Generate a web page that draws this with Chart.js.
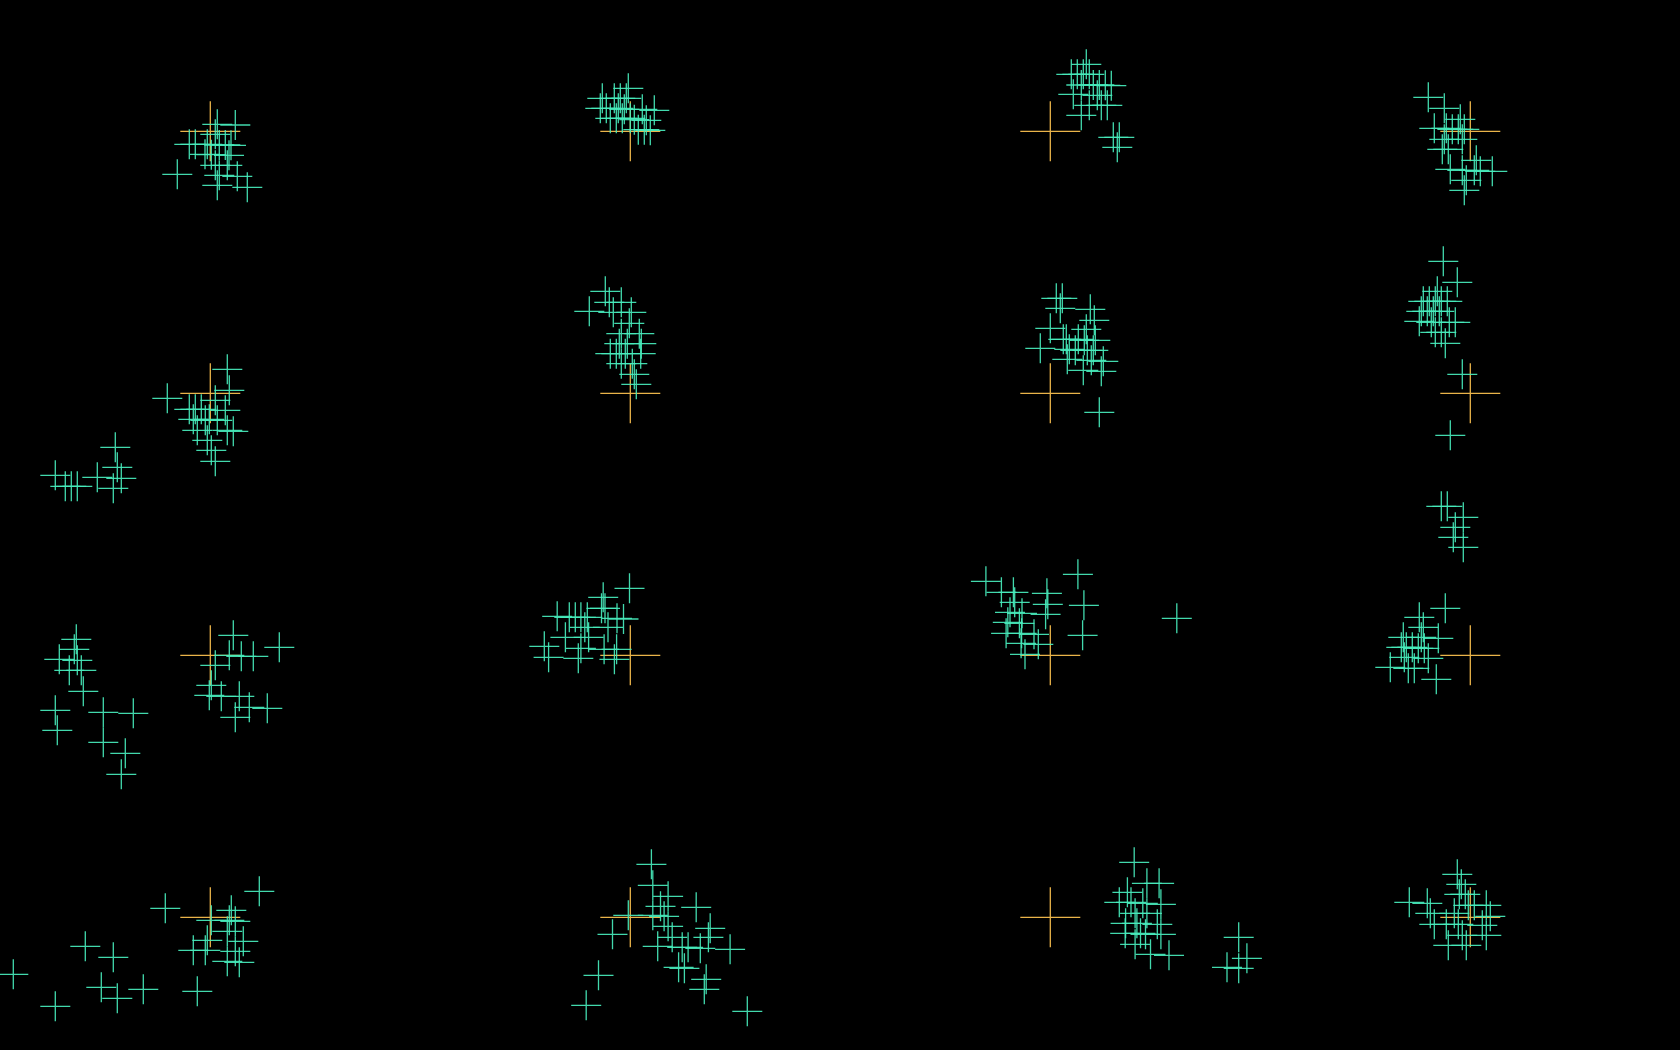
<!DOCTYPE html>
<html>
<head>
<meta charset="utf-8">
<script src="https://cdn.jsdelivr.net/npm/chart.js@4/dist/chart.umd.min.js"></script>
<style>
html,body{margin:0;padding:0;background:#000;}
#wrap{position:relative;width:1680px;height:1050px;}
</style>
</head>
<body>
<div id="wrap"><canvas id="c"></canvas></div>
<script>
// Reference grid (arbitrary units)
const refX = [2.103, 6.303, 10.503, 14.703];
const refY = [1.313, 3.933, 6.553, 9.173];

// Samples, grouped by grid row
const row0X = [1.773,2.473,2.353,2.373,2.173,2.173,1.893,2.073,2.153,2.310,2.050,2.290,2.153,2.273,2.193,2.253,1.953,2.113,2.193,
  6.283,6.023,6.143,6.203,6.263,6.003,6.063,6.183,6.243,6.423,6.543,6.103,6.163,6.223,6.343,6.463,6.383,6.443,6.503,6.303,
  10.863,10.713,10.773,10.833,10.893,10.813,10.933,10.993,11.053,11.113,10.733,10.973,10.893,11.013,11.073,10.813,11.133,11.193,11.173,
  14.283,14.443,14.603,14.343,14.463,14.523,14.583,14.643,14.443,14.623,14.423,14.483,14.763,14.503,14.623,14.743,14.803,14.923,14.663,14.643];
const row0Y = [1.743,1.873,1.250,1.763,1.243,1.853,1.443,1.443,1.343,1.453,1.543,1.553,1.653,1.653,1.753,1.450,1.443,1.547,1.450,
  0.883,0.983,0.983,0.983,0.983,1.083,1.083,1.083,1.093,1.093,1.103,1.183,1.183,1.183,1.197,1.203,1.297,1.297,1.303,1.183,
  0.643,0.743,0.743,0.743,0.743,0.850,0.850,0.850,0.853,0.857,0.943,0.953,1.053,1.053,1.053,1.153,1.373,1.373,1.473,
  0.973,1.083,1.193,1.283,1.283,1.293,1.293,1.293,1.393,1.393,1.493,1.493,1.603,1.693,1.703,1.703,1.713,1.713,1.803,1.903];

const row1X = [2.273,2.293,1.673,2.153,1.893,1.953,2.013,2.253,1.933,2.053,2.173,1.973,2.273,2.333,2.073,2.113,2.153,2.093,
  1.153,1.173,0.553,0.973,1.213,0.653,0.713,0.773,1.133,
  6.053,6.093,6.213,5.893,6.133,6.313,6.293,6.213,6.393,6.193,6.273,6.413,6.103,6.253,6.407,6.213,6.323,6.343,6.363,6.163,
  10.563,10.623,10.603,10.903,10.943,10.503,10.863,10.633,10.783,10.843,10.953,10.403,10.693,10.753,10.873,10.933,10.673,10.913,11.033,10.833,11.013,10.993,10.663,
  14.433,14.573,14.373,14.233,14.293,14.353,14.413,14.473,14.213,14.273,14.333,14.393,14.193,14.313,14.493,14.553,14.353,14.413,14.453,14.623,14.503,
  14.413,14.473,14.633,14.553,14.533,14.633];
const row1Y = [3.693,3.903,3.983,4.003,4.093,4.093,4.093,4.103,4.193,4.203,4.203,4.303,4.303,4.313,4.403,4.503,4.613,4.193,
  4.473,4.673,4.753,4.773,4.783,4.863,4.863,4.863,4.883,
  2.913,3.023,3.023,3.113,3.123,3.123,3.233,3.337,3.337,3.437,3.437,3.437,3.537,3.537,3.537,3.637,3.637,3.743,3.843,3.537,
  2.983,2.983,3.083,3.093,3.203,3.283,3.293,3.393,3.393,3.403,3.403,3.483,3.493,3.503,3.503,3.503,3.593,3.603,3.613,3.703,3.713,4.123,3.393,
  2.613,2.823,2.913,3.013,3.013,3.013,3.013,3.013,3.113,3.113,3.113,3.113,3.213,3.223,3.223,3.223,3.323,3.323,3.433,3.743,4.353,
  5.063,5.063,5.173,5.273,5.373,5.473];

const row2X = [2.333,2.793,2.293,2.413,2.533,2.153,2.113,2.093,2.213,2.393,2.493,2.673,2.353,
  0.763,0.743,0.593,0.773,0.693,0.813,0.833,0.553,1.033,1.333,0.573,1.033,1.253,1.213,
  6.295,6.032,6.050,5.572,5.693,5.753,5.809,5.873,6.170,6.235,5.848,6.080,5.654,5.886,5.443,5.809,6.041,6.166,5.486,5.783,6.144,6.015,
  10.779,9.859,10.014,10.134,10.469,10.147,10.478,10.839,10.100,10.220,10.456,10.078,10.194,10.061,10.216,10.340,10.826,10.211,10.383,10.250,11.768,
  14.453,14.193,14.233,14.033,14.213,14.383,14.013,14.063,14.123,14.183,14.243,14.043,14.283,13.903,14.083,14.143,14.363];
const row2Y = [6.353,6.473,6.553,6.563,6.563,6.653,6.853,6.953,6.963,6.963,7.073,7.083,7.173,
  6.393,6.493,6.593,6.603,6.703,6.703,6.913,7.103,7.123,7.133,7.303,7.423,7.533,7.743,
  5.883,5.973,6.083,6.163,6.173,6.173,6.173,6.173,6.183,6.190,6.273,6.273,6.373,6.373,6.463,6.483,6.493,6.493,6.573,6.583,6.593,6.083,
  5.743,5.813,5.923,5.923,5.933,6.023,6.043,6.053,6.123,6.133,6.143,6.223,6.233,6.333,6.333,6.343,6.353,6.433,6.443,6.543,6.183,
  6.083,6.173,6.273,6.373,6.373,6.383,6.473,6.473,6.473,6.483,6.483,6.573,6.583,6.673,6.683,6.683,6.793];

const row3X = [2.593,1.653,2.313,2.113,2.293,2.353,2.273,2.073,2.433,0.853,1.933,2.053,2.353,1.133,2.273,2.393,0.133,1.013,1.433,1.973,1.173,0.553,
  6.514,6.528,6.681,6.605,6.962,6.283,6.528,6.641,6.681,7.102,6.125,6.722,7.084,6.577,6.822,6.881,7.003,7.301,6.786,6.844,5.985,7.062,7.043,5.862,7.473,
  11.342,11.469,11.591,11.274,11.193,11.310,11.428,11.609,11.351,11.469,11.256,11.369,11.573,11.252,11.405,11.455,11.609,11.351,11.505,11.690,12.387,12.469,12.270,12.387,
  14.573,14.613,14.593,14.653,14.093,14.273,14.683,14.743,14.863,14.303,14.543,14.903,14.343,14.463,14.583,14.823,14.623,14.863,14.483,14.663];
const row3Y = [8.913,9.083,9.103,9.203,9.203,9.213,9.313,9.403,9.413,9.463,9.503,9.503,9.513,9.573,9.613,9.623,9.743,9.873,9.893,9.913,9.983,10.063,
  8.643,8.853,8.963,9.063,9.073,9.153,9.153,9.163,9.263,9.283,9.343,9.373,9.373,9.463,9.473,9.473,9.483,9.493,9.673,9.683,9.753,9.793,9.893,10.053,10.113,
  8.623,8.833,8.833,8.923,9.023,9.023,9.033,9.043,9.133,9.133,9.233,9.233,9.243,9.333,9.333,9.343,9.343,9.443,9.543,9.553,9.373,9.583,9.673,9.683,
  8.743,8.843,8.943,8.943,9.023,9.033,9.053,9.053,9.053,9.133,9.133,9.163,9.243,9.243,9.243,9.253,9.353,9.353,9.453,9.453];

const zip = (xs, ys) => xs.map((x, i) => ({x: x, y: ys[i]}));
const refPts = [];
refY.forEach(y => refX.forEach(x => refPts.push({x: x, y: y})));

const CYAN = 'rgba(72,236,188,0.92)';
const ORANGE = '#eab44a';
const sampleStyle = {pointStyle: 'cross', pointRadius: 15, pointHoverRadius: 15,
  borderColor: CYAN, backgroundColor: CYAN, pointBorderWidth: 1.3, borderWidth: 1.3, clip: false};

new Chart(document.getElementById('c'), {
  type: 'scatter',
  data: {
    datasets: [
      Object.assign({label: 'row0', data: zip(row0X, row0Y)}, sampleStyle),
      Object.assign({label: 'row1', data: zip(row1X, row1Y)}, sampleStyle),
      Object.assign({label: 'row2', data: zip(row2X, row2Y)}, sampleStyle),
      Object.assign({label: 'row3', data: zip(row3X, row3Y)}, sampleStyle),
      {label: 'reference', data: refPts, pointStyle: 'cross', pointRadius: 30, pointHoverRadius: 30,
       borderColor: ORANGE, backgroundColor: ORANGE, pointBorderWidth: 1.3, borderWidth: 1.3, clip: false}
    ]
  },
  options: {
    responsive: true,
    maintainAspectRatio: false,
    animation: false,
    layout: {padding: 0, autoPadding: false},
    plugins: {legend: {display: false}, tooltip: {enabled: false}},
    events: [],
    scales: {
      x: {type: 'linear', min: 0, max: 16.8, display: false},
      y: {type: 'linear', min: 0, max: 10.5, reverse: true, display: false}
    }
  }
});
</script>
</body>
</html>
